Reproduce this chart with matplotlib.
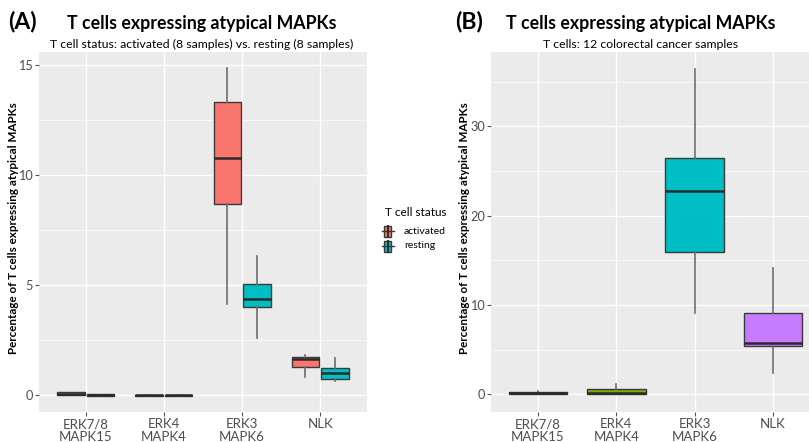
import matplotlib
matplotlib.use("Agg")
import matplotlib.pyplot as plt
from matplotlib.patches import Rectangle
from matplotlib.lines import Line2D

plt.rcParams['font.family'] = ['Lato', 'DejaVu Sans']

categories = ["ERK7/8\nMAPK15", "ERK4\nMAPK4", "ERK3\nMAPK6", "NLK"]

# Panel A: T cell status activated vs resting (box statistics)
act_whislo = [0.00, 0.00, 4.12, 0.83]
act_q1     = [0.00, -0.02, 8.68, 1.29]
act_med    = [0.03, -0.01, 10.76, 1.62]
act_q3     = [0.14, 0.00, 13.33, 1.74]
act_whishi = [0.16, 0.01, 14.85, 1.82]

res_whislo = [0.00, 0.00, 2.58, 0.62]
res_q1     = [-0.03, -0.02, 4.01, 0.73]
res_med    = [0.00, -0.01, 4.35, 1.01]
res_q3     = [0.04, 0.00, 5.05, 1.24]
res_whishi = [0.06, 0.01, 6.32, 1.70]

# Panel B: 12 colorectal cancer samples
crc_whislo = [0.00, 0.00, 9.07, 2.37]
crc_q1     = [0.05, 0.05, 15.96, 5.42]
crc_med    = [0.20, 0.22, 22.77, 5.75]
crc_q3     = [0.30, 0.62, 26.50, 9.14]
crc_whishi = [0.35, 1.14, 36.45, 14.10]

status_labels = ["activated", "resting"]
status_colors = ["#F8766D", "#00BFC4"]
crc_colors = ["#F8766D", "#7CAE00", "#00BFC4", "#C77CFF"]

W, H = 809, 442
fig = plt.figure(figsize=(W / 100, H / 100), dpi=100)

BG = "#EBEBEB"
EDGE = "#3a3a3a"
WHISK = "#6e6e6e"
TICKC = "#4d4d4d"


def px_axes(x0, y0, x1, y1):
    return fig.add_axes([x0 / W, 1 - y1 / H, (x1 - x0) / W, (y1 - y0) / H])


def make_stats(wl, q1, med, q3, wh):
    return [dict(whislo=a, q1=b, med=c, q3=d, whishi=e, fliers=[])
            for a, b, c, d, e in zip(wl, q1, med, q3, wh)]


def style_axes(ax, major, minor, ylim):
    ax.set_facecolor(BG)
    for s in ax.spines.values():
        s.set_visible(False)
    ax.set_xlim(0.4, 4.6)
    ax.set_ylim(*ylim)
    ax.set_yticks(major)
    ax.set_yticks(minor, minor=True)
    ax.set_xticks([1, 2, 3, 4])
    ax.set_xticklabels(categories, fontsize=9.5, color=TICKC, linespacing=1.05)
    ax.tick_params(axis='both', which='major', length=3, color="#555555",
                   labelcolor=TICKC, labelsize=9.5, width=0.8, pad=1.5)
    ax.tick_params(axis='y', which='major', labelsize=9.2)
    ax.tick_params(axis='y', which='minor', length=0)
    ax.grid(True, which='major', color='white', lw=1.0)
    ax.grid(True, which='minor', axis='y', color='white', lw=0.5)
    ax.set_axisbelow(True)


def draw_box(ax, stats, positions, width, colors):
    bp = ax.bxp(stats, positions=positions, widths=width, patch_artist=True,
                showfliers=False, showcaps=False,
                boxprops=dict(edgecolor=EDGE, linewidth=1.0),
                medianprops=dict(color="#2a2a2a", linewidth=1.8),
                whiskerprops=dict(color=WHISK, linewidth=1.2),
                manage_ticks=False, zorder=3)
    for patch, c in zip(bp['boxes'], colors):
        patch.set_facecolor(c)
    return bp


YLAB = "Percentage of T cells expressing atypical MAPKs"

# ---------------- Panel A ----------------
axA = px_axes(39, 52, 367, 412)
style_axes(axA, [0, 5, 10, 15], [2.5, 7.5, 12.5], (-0.77, 15.6))
pos = [1, 2, 3, 4]
draw_box(axA, make_stats(act_whislo, act_q1, act_med, act_q3, act_whishi),
         [p - 0.19 for p in pos], 0.35, [status_colors[0]] * 4)
draw_box(axA, make_stats(res_whislo, res_q1, res_med, res_q3, res_whishi),
         [p + 0.19 for p in pos], 0.35, [status_colors[1]] * 4)
axA.set_ylabel(YLAB, fontsize=8.4, fontweight='bold', va='center')
axA.yaxis.set_label_coords((14 - 39) / 328, 0.51)

# ---------------- Panel B ----------------
axB = px_axes(491, 52, 820, 412)
style_axes(axB, [0, 10, 20, 30], [5, 15, 25, 35], (-1.96, 38.3))
draw_box(axB, make_stats(crc_whislo, crc_q1, crc_med, crc_q3, crc_whishi),
         pos, 0.75, crc_colors)
axB.set_ylabel(YLAB, fontsize=8.4, fontweight='bold', va='center')
axB.yaxis.set_label_coords((464 - 491) / 329, 0.51)

# ---------------- Titles ----------------
fig.text(8 / W, 1 - 22 / H, "(A)", fontsize=16.5, fontweight='bold', va='center', ha='left')
fig.text(202 / W, 1 - 23 / H, "T cells expressing atypical MAPKs", fontsize=12.8,
         fontweight='bold', va='center', ha='center')
fig.text(202 / W, 1 - 44 / H, "T cell status: activated (8 samples) vs. resting (8 samples)",
         fontsize=8.8, va='center', ha='center')

fig.text(455 / W, 1 - 22 / H, "(B)", fontsize=16.5, fontweight='bold', va='center', ha='left')
fig.text(641 / W, 1 - 23 / H, "T cells expressing atypical MAPKs", fontsize=12.8,
         fontweight='bold', va='center', ha='center')
fig.text(641 / W, 1 - 44 / H, "T cells: 12 colorectal cancer samples",
         fontsize=8.8, va='center', ha='center')

# ---------------- Legend (drawn in figure pixel space) ----------------
axL = fig.add_axes([0, 0, 1, 1], zorder=5)
axL.set_xlim(0, W)
axL.set_ylim(H, 0)
axL.axis('off')
axL.text(385, 212, "T cell status", fontsize=8.5, va='center', ha='left')
for i, (lab, col) in enumerate(zip(status_labels, status_colors)):
    yc = 231 + i * 15
    axL.add_line(Line2D([382, 394], [yc, yc], color=EDGE, lw=1.0))
    axL.add_patch(Rectangle((384.5, yc - 5.5), 7, 11, facecolor=col, edgecolor=EDGE, lw=1.0))
    axL.add_line(Line2D([388, 388], [yc - 5.5, yc + 5.5], color="#2a2a2a", lw=1.4))
    axL.text(404, yc, lab, fontsize=7.5, va='center', ha='left')

fig.savefig("out.png", dpi=100)
